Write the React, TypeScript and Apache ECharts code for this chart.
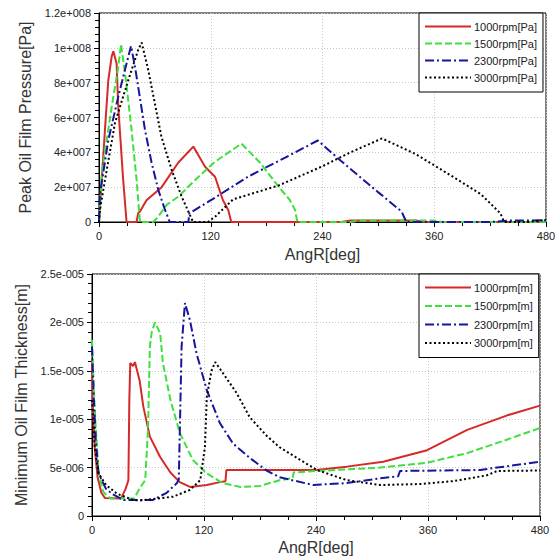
import React, { useEffect, useRef } from "react";
import * as echarts from "echarts";

// ---------- data ----------
const angleTicks = [0, 120, 240, 360, 480];
const seriesNamesPressure = ["1000rpm[Pa]", "1500rpm[Pa]", "2300rpm[Pa]", "3000rpm[Pa]"];
const seriesNamesThickness = ["1000rpm[m]", "1500rpm[m]", "2300rpm[m]", "3000rpm[m]"];

const pressure1000 = [
  [0, 0], [1, 1e7], [2.9, 2.4e7], [6.4, 5.3e7], [10, 8.15e7], [13.6, 9.5e7], [15.4, 9.8e7],
  [18.9, 9.1e7], [20.7, 6.6e7], [26, 2.4e7], [29.6, 0], [40.4, 0], [42, 5e6], [44, 6e6],
  [51, 1.25e7], [67.3, 2e7], [85, 3.4e7], [101.3, 4.33e7], [113.9, 3.17e7], [124.6, 2.6e7],
  [133, 1.26e7], [138.8, 6.9e6], [142, 0], [260, 0], [270, 8e5], [340, 8e5], [350, 0], [480, 0],
];
const pressure1500 = [
  [0, 0], [1, 6e6], [2.9, 2.8e7], [13.6, 6.6e7], [20.7, 8.9e7], [23.6, 1.02e8], [28, 8.55e7],
  [35, 5.28e7], [40.4, 2.4e7], [44, 0], [58, 0], [62, 2e6], [73, 1e7], [85, 1.45e7], [103, 2.4e7],
  [124.6, 3.46e7], [153, 4.5e7], [173, 3.4e7], [194, 1.95e7], [205, 1.26e7], [210.5, 6.9e6],
  [213, 0], [270, 0], [280, 8e5], [360, 8e5], [370, 0], [480, 0],
];
const pressure2300 = [
  [0, 0], [1, 1.6e7], [10, 4.7e7], [20.7, 7.2e7], [29.6, 9.1e7], [34.4, 1.01e8], [38.7, 8.9e7],
  [49.4, 5.28e7], [56.5, 3.4e7], [63.7, 1.84e7], [70.9, 6.9e6], [76, 0], [96, 0], [97, 5e6],
  [124.6, 1.4e7], [160, 2.6e7], [200, 3.7e7], [235, 4.68e7], [260, 3.5e7], [300, 1.7e7],
  [325, 6e6], [330, 0], [420, 0], [440, 8e5], [480, 1e6],
];
const pressure3000 = [
  [0, 0], [1, 6.9e6], [6.4, 2.4e7], [17.2, 5.7e7], [31.5, 8.15e7], [42.2, 9.9e7], [45.8, 1.03e8],
  [53, 8.7e7], [60, 6.8e7], [67, 4.9e7], [78, 3e7], [88.8, 1.45e7], [101, 0], [117, 0],
  [124.6, 3e6], [144, 1.3e7], [193, 2.1e7], [240, 3.2e7], [270, 4e7], [304, 4.8e7], [340, 3.9e7],
  [380, 2.6e7], [410, 1.6e7], [431, 5e6], [435, 0], [460, 0], [480, 1.2e6],
];

const thickness1000 = [
  [0, 1.6e-5], [1, 1.1e-5], [3, 7e-6], [6, 4e-6], [10, 2.4e-6], [14, 1.85e-6], [31, 1.8e-6],
  [36, 2.8e-6], [39, 3.7e-6], [40, 1.2e-5], [41, 1.58e-5], [44, 1.55e-5], [46, 1.59e-5],
  [51, 1.4e-5], [55, 1.13e-5], [62, 8.2e-6], [73, 6.1e-6], [84, 4.5e-6], [94, 3.5e-6],
  [105, 3e-6], [123, 3.2e-6], [137, 3.5e-6], [143, 3.6e-6], [144, 4.75e-6], [240, 4.75e-6],
  [273, 5.1e-6], [312, 5.6e-6], [359, 6.8e-6], [402, 8.9e-6], [445, 1.04e-5], [480, 1.14e-5],
];
const thickness1500 = [
  [0, 1.82e-5], [2, 1.3e-5], [4, 9.2e-6], [7, 4.5e-6], [12, 2.5e-6], [20, 1.8e-6], [45, 1.8e-6],
  [52, 3e-6], [57, 3.7e-6], [60, 8.9e-6], [62, 1.75e-5], [64, 1.9e-5], [67.5, 2e-5], [73, 1.89e-5],
  [76, 1.58e-5], [84, 1.2e-5], [94, 8.6e-6], [108, 5.8e-6], [123, 4.4e-6], [140, 3.4e-6],
  [159, 3e-6], [180, 3.1e-6], [201, 3.7e-6], [215, 3.9e-6], [216, 4.5e-6], [241, 4.65e-6],
  [309, 5e-6], [359, 5.5e-6], [402, 6.5e-6], [445, 7.9e-6], [480, 9.1e-6],
];
const thickness2300 = [
  [0, 1.75e-5], [2, 1.2e-5], [4, 8e-6], [7, 4.4e-6], [15, 2.8e-6], [23, 2.2e-6], [34, 1.65e-6],
  [65, 1.65e-6], [80, 2.4e-6], [91, 3.4e-6], [93, 3.8e-6], [96, 1.75e-5], [99.6, 2.2e-5],
  [105, 2.02e-5], [112, 1.68e-5], [123, 1.3e-5], [137, 9.6e-6], [151, 7.5e-6], [169, 6e-6],
  [187, 4.7e-6], [201, 4e-6], [237, 3.2e-6], [273, 3.4e-6], [309, 3.9e-6], [328, 4.1e-6],
  [330, 4.65e-6], [416, 4.75e-6], [434, 5e-6], [480, 5.6e-6],
];
const thickness3000 = [
  [0, 1.2e-5], [3, 7e-6], [7, 4.4e-6], [15, 3.2e-6], [27, 2.3e-6], [44, 1.65e-6], [51, 1.6e-6],
  [87, 2e-6], [105, 2.7e-6], [116, 3.7e-6], [121, 7.1e-6], [123, 1.23e-5], [128, 1.5e-5],
  [132, 1.59e-5], [140, 1.48e-5], [155, 1.27e-5], [169, 1.02e-5], [187, 8.3e-6], [201, 7.1e-6],
  [223, 5.8e-6], [241, 4.75e-6], [273, 3.7e-6], [309, 3.2e-6], [351, 3.3e-6], [387, 3.6e-6],
  [423, 4.2e-6], [434, 4.65e-6], [480, 4.7e-6],
];

const colors = ["#d42a2a", "#3ee03e", "#16169a", "#000000"];
const dashes: any[] = ["solid", [7, 3], [9, 3, 2, 3], [2, 2.5]];

function sci(v: number): string {
  if (v === 0) return "0";
  const e = Math.floor(Math.log10(Math.abs(v)) + 1e-9);
  const m = parseFloat((v / Math.pow(10, e)).toFixed(3));
  return m + "e" + (e >= 0 ? "+" : "-") + String(Math.abs(e)).padStart(3, "0");
}

const FONT = "Liberation Sans, Arial, sans-serif";

function xAxisDef(gridIndex: number, nameGap: number) {
  return {
    type: "value",
    gridIndex,
    min: angleTicks[0],
    max: angleTicks[angleTicks.length - 1],
    interval: angleTicks[1] - angleTicks[0],
    name: "AngR[deg]",
    nameLocation: "middle",
    nameGap,
    nameTextStyle: { fontFamily: FONT, fontSize: 16, color: "#333" },
    axisLine: { show: true, onZero: false, lineStyle: { color: "#000", width: 1 } },
    axisTick: { show: true, length: 5, lineStyle: { color: "#000" } },
    minorTick: { show: true, splitNumber: 4, length: 4, lineStyle: { color: "#000" } },
    axisLabel: { fontFamily: FONT, fontSize: 11, color: "#222", margin: 8 },
    splitLine: { show: true, lineStyle: { color: "#c8c8c8", type: [1, 2] } },
  };
}

function yAxisDef(gridIndex: number, max: number, interval: number, name: string, nameGap: number) {
  return {
    type: "value",
    gridIndex,
    min: 0,
    max,
    interval,
    name,
    nameLocation: "middle",
    nameGap,
    nameTextStyle: { fontFamily: FONT, fontSize: 16, color: "#333" },
    axisLine: { show: true, lineStyle: { color: "#000", width: 1 } },
    axisTick: { show: true, length: 5, lineStyle: { color: "#000" } },
    minorTick: { show: true, splitNumber: 5, length: 4, lineStyle: { color: "#000" } },
    axisLabel: { fontFamily: FONT, fontSize: 11, color: "#222", margin: 8, formatter: (v: number) => sci(v) },
    splitLine: { show: true, lineStyle: { color: "#c8c8c8", type: [1, 2] } },
  };
}

function lineSeries(name: string, data: number[][], idx: number, axisIndex: number) {
  return {
    type: "line",
    name,
    data,
    xAxisIndex: axisIndex,
    yAxisIndex: axisIndex,
    symbol: "none",
    showSymbol: false,
    lineStyle: { color: colors[idx], width: 2, type: dashes[idx] },
    itemStyle: { color: colors[idx] },
  };
}

function legendDef(names: string[], left: number, top: number, gap: number, pad: number[]) {
  return {
    data: names,
    orient: "vertical",
    left,
    top,
    itemWidth: 46,
    itemHeight: 10,
    itemGap: gap,
    padding: pad,
    backgroundColor: "#fff",
    borderColor: "#000",
    borderWidth: 1,
    borderRadius: 0,
    itemStyle: { opacity: 0 },
    textStyle: { fontFamily: FONT, fontSize: 11, color: "#222", padding: [0, 0, 0, -2] },
    selectedMode: false,
  };
}

export default function App() {
  const ref = useRef<HTMLDivElement>(null);
  useEffect(() => {
    if (!ref.current) return;
    const chart = echarts.init(ref.current, undefined, { renderer: "svg" });
    const pressures = [pressure1000, pressure1500, pressure2300, pressure3000];
    const thicknesses = [thickness1000, thickness1500, thickness2300, thickness3000];
    chart.setOption({
      animation: false,
      backgroundColor: "#fff",
      grid: [
        { left: 99, top: 13, width: 447, height: 209, show: true, borderColor: "#000", borderWidth: 1, backgroundColor: "transparent" },
        { left: 92, top: 274, width: 448, height: 242, show: true, borderColor: "#000", borderWidth: 1, backgroundColor: "transparent" },
      ],
      xAxis: [xAxisDef(0, 24), xAxisDef(1, 23)],
      yAxis: [
        yAxisDef(0, 1.2e8, 2e7, "Peak Oil Film Pressure[Pa]", 56),
        yAxisDef(1, 2.5e-5, 5e-6, "Minimum Oil Film Thickness[m]", 50),
      ],
      legend: [
        legendDef(seriesNamesPressure, 419, 13, 6, [8, 6, 9, 5]),
        legendDef(seriesNamesThickness, 419, 274, 7.5, [8, 6, 9, 5]),
      ],
      series: [
        ...pressures.map((d, i) => lineSeries(seriesNamesPressure[i], d, i, 0)),
        ...thicknesses.map((d, i) => lineSeries(seriesNamesThickness[i], d, i, 1)),
      ],
    });
    return () => chart.dispose();
  }, []);
  return (
    <div
      ref={ref}
      style={{ position: "fixed", left: 0, top: 0, width: 560, height: 560, background: "#fff" }}
    />
  );
}
